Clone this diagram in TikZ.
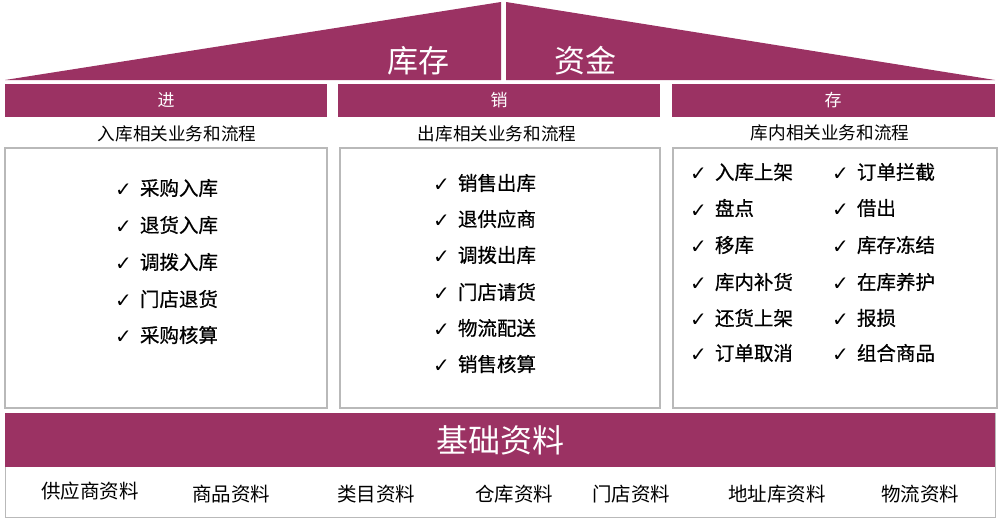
\documentclass[tikz,border=0pt]{standalone}
\usepackage{fontspec}
\setmainfont{Noto Sans CJK SC}
\newfontfamily\itemfont[FakeBold=0.6]{Noto Sans CJK SC}
\newfontfamily\symfont{DejaVu Sans}
\definecolor{wine}{RGB}{155,50,99}
\definecolor{boxgray}{RGB}{185,185,185}
\newcommand{\chk}{\raisebox{-1.5pt}{\symfont\bfseries\fontsize{20}{20}\selectfont ✓}\hspace{8pt}}
\tikzset{
  roofs/.style={fill=wine, draw=none},
  bar/.style={fill=wine, draw=none},
  roofText/.style={text=white, font=\fontsize{31}{34}\selectfont, inner sep=0pt},
  barText/.style={text=white, font=\fontsize{17}{20}\selectfont, inner sep=0pt},
  subText/.style={text=black, font=\fontsize{17.6}{20}\selectfont, inner sep=0pt},
  panel/.style={draw=boxgray, line width=1.2pt, fill=white},
  item/.style={anchor=west, inner sep=0pt, text=black, font=\itemfont\fontsize{19.5}{22}\selectfont},
  baseText/.style={text=white, font=\fontsize{32}{34}\selectfont, inner sep=0pt},
  footText/.style={text=black, font=\fontsize{19.5}{22}\selectfont, inner sep=0pt}
}
\begin{document}
\begin{tikzpicture}[x=1pt, y=-1pt]
\useasboundingbox (0,0) rectangle (1000,519);
% roof
\fill[roofs] (5,80) -- (501,2) -- (501,80) -- cycle;
\fill[roofs] (506,2) -- (995,80) -- (506,80) -- cycle;
\node[roofText] (kucun) at (418,61) {库存};
\node[roofText] (zijin) at (585,61) {资金};
% column bars
\fill[bar] (5,84) rectangle (327,117);
\fill[bar] (338,84) rectangle (660,117);
\fill[bar] (672,84) rectangle (995,117);
\node[barText] (jin) at (166,100) {进};
\node[barText] (xiao) at (499,100) {销};
\node[barText] (cun) at (833,100) {存};
% subtitles
\node[subText] (sub1) at (177,134) {入库相关业务和流程};
\node[subText] (sub2) at (497,134) {出库相关业务和流程};
\node[subText] (sub3) at (830,133) {库内相关业务和流程};
% panels
\draw[panel] (5,148) rectangle (327,408);
\draw[panel] (340,148) rectangle (660,408);
\draw[panel] (673,148) rectangle (997,408);
% panel 1 items
\node[item] (a1) at (115,188) {\chk 采购入库};
\node[item] (a2) at (115,225) {\chk 退货入库};
\node[item] (a3) at (115,262) {\chk 调拨入库};
\node[item] (a4) at (115,299) {\chk 门店退货};
\node[item] (a5) at (115,335) {\chk 采购核算};
% panel 2 items
\node[item] (b1) at (433,183) {\chk 销售出库};
\node[item] (b2) at (433,219) {\chk 退供应商};
\node[item] (b3) at (433,255) {\chk 调拨出库};
\node[item] (b4) at (433,292) {\chk 门店请货};
\node[item] (b5) at (433,328) {\chk 物流配送};
\node[item] (b6) at (433,364) {\chk 销售核算};
% panel 3 items
\node[item] (c1) at (690,172) {\chk 入库上架};
\node[item] (c2) at (690,208) {\chk 盘点};
\node[item] (c3) at (690,245) {\chk 移库};
\node[item] (c4) at (690,282) {\chk 库内补货};
\node[item] (c5) at (690,318) {\chk 还货上架};
\node[item] (c6) at (690,353) {\chk 订单取消};
\node[item] (d1) at (832,172) {\chk 订单拦截};
\node[item] (d2) at (832,208) {\chk 借出};
\node[item] (d3) at (832,245) {\chk 库存冻结};
\node[item] (d4) at (832,282) {\chk 在库养护};
\node[item] (d5) at (832,318) {\chk 报损};
\node[item] (d6) at (832,353) {\chk 组合商品};
% base
\draw[draw=boxgray, line width=1pt, fill=white] (5,413) rectangle (995,517);
\fill[bar] (5,413) rectangle (995,467);
\node[baseText] (base) at (500,440) {基础资料};
\node[footText] (f1) at (90,491) {供应商资料};
\node[footText] (f2) at (231,494) {商品资料};
\node[footText] (f3) at (376,494) {类目资料};
\node[footText] (f4) at (514,494) {仓库资料};
\node[footText] (f5) at (631,494) {门店资料};
\node[footText] (f6) at (777,494) {地址库资料};
\node[footText] (f7) at (920,494) {物流资料};
\end{tikzpicture}
\end{document}
